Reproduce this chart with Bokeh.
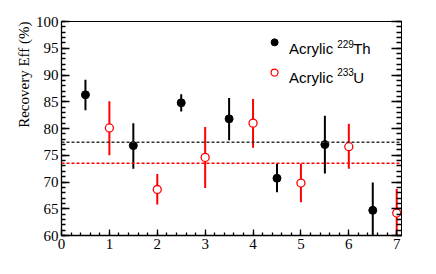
import math
from bokeh.plotting import figure
from bokeh.models import Range1d, FixedTicker, LinearAxis, Label, Span, ColumnDataSource, Title
from bokeh.embed import file_html
from bokeh.resources import INLINE

# ---- data ----
th_x = [0.5, 1.5, 2.5, 3.5, 4.5, 5.5, 6.5]
th_y = [86.3, 76.8, 84.8, 81.8, 70.7, 77.0, 64.7]
th_hi = [89.1, 81.0, 86.4, 85.7, 73.4, 82.4, 69.9]
th_lo = [83.4, 72.5, 83.2, 77.8, 68.1, 71.6, 59.0]

u_x = [1, 2, 3, 4, 5, 6, 7]
u_y = [80.1, 68.6, 74.6, 81.0, 69.8, 76.6, 64.2]
u_hi = [85.1, 71.5, 80.3, 85.5, 73.4, 80.9, 68.7]
u_lo = [75.0, 65.8, 68.9, 76.4, 66.2, 72.5, 59.0]

th_mean = 77.45
u_mean = 73.5

x_ticks = [0, 1, 2, 3, 4, 5, 6, 7]
y_ticks = [60, 65, 70, 75, 80, 85, 90, 95, 100]

SANS = "'Liberation Sans'"
SERIF = "'Liberation Serif'"

p = figure(width=428, height=266, output_backend="svg",
           toolbar_location=None, min_border_left=61, min_border_top=21,
           min_border_right=27, min_border_bottom=31,
           x_range=Range1d(0, 7.1), y_range=Range1d(60, 100))
p.xgrid.visible = False
p.ygrid.visible = False
p.outline_line_color = "black"
p.outline_line_width = 1
p.background_fill_color = "white"
p.border_fill_color = "white"

xminor = [i * 0.2 for i in range(0, 36)]
yminor = list(range(60, 101))

xa = p.xaxis[0]
ya = p.yaxis[0]
xa.ticker = FixedTicker(ticks=x_ticks, minor_ticks=xminor)
ya.ticker = FixedTicker(ticks=y_ticks, minor_ticks=yminor)

for ax in (xa, ya):
    ax.major_label_text_font = SERIF
    ax.major_label_text_font_size = "15px"
    ax.major_label_text_color = "black"
    ax.axis_line_color = "black"
    ax.axis_line_width = 1.3
    ax.major_tick_line_color = "black"
    ax.minor_tick_line_color = "black"
    ax.major_tick_out = 0
    ax.minor_tick_out = 0
    ax.major_tick_line_width = 1.3
    ax.minor_tick_line_width = 1.3
    ax.major_label_standoff = 3

xa.major_tick_in = 6
xa.minor_tick_in = 3
ya.major_tick_in = 8
ya.minor_tick_in = 4

ra = LinearAxis(ticker=FixedTicker(ticks=y_ticks, minor_ticks=yminor))
ra.major_label_text_font_size = "0px"
ra.major_label_text_alpha = 0
ra.major_tick_out = 0
ra.minor_tick_out = 0
ra.major_tick_in = 10
ra.minor_tick_in = 5
ra.axis_line_color = "black"
ra.major_tick_line_width = 1.3
ra.minor_tick_line_width = 1.3
ra.major_label_standoff = 0
p.add_layout(ra, "right")

# y axis title, aligned to the top end
p.add_layout(Title(text="Recovery Eff (%)", align="right", text_font=SERIF,
                   text_font_size="15px", text_font_style="normal",
                   text_color="black", standoff=2, offset=0), "left")

# mean lines
p.add_layout(Span(location=th_mean, dimension="width", line_color="#333333",
                  line_dash="3 2", line_width=1.5))
p.add_layout(Span(location=u_mean, dimension="width", line_color="#ff0000",
                  line_dash="3 2", line_width=1.5))

th_src = ColumnDataSource(dict(x=th_x, y=th_y, hi=th_hi, lo=th_lo))
u_src = ColumnDataSource(dict(x=u_x, y=u_y, hi=u_hi, lo=u_lo))

p.segment(x0="x", y0="lo", x1="x", y1="hi", source=th_src, line_color="black", line_width=2)
p.segment(x0="x", y0="lo", x1="x", y1="hi", source=u_src, line_color="#ff0000", line_width=2)
p.scatter(x="x", y="y", source=th_src, size=8, marker="circle",
          fill_color="black", line_color="black")
p.scatter(x="x", y="y", source=u_src, size=8, marker="circle",
          fill_color="white", line_color="#ff0000", line_width=1.3)

# legend (custom)
p.scatter(x=[4.45], y=[96.1], size=7, marker="circle", fill_color="black", line_color="black")
p.scatter(x=[4.45], y=[90.45], size=7, marker="circle", fill_color="white",
          line_color="#ff0000", line_width=1.2)

def lab(x, y, text, size):
    p.add_layout(Label(x=x, y=y, text=text, text_font=SANS, text_font_size=size,
                       text_color="black", text_baseline="alphabetic", text_align="left"))

lab(4.75, 94.9, "Acrylic", "15px")
lab(5.758, 95.85, "229", "10px")
lab(6.09, 94.9, "Th", "15px")
lab(4.75, 89.6, "Acrylic", "15px")
lab(5.758, 90.55, "233", "10px")
lab(6.09, 89.6, "U", "15px")

open("out.html", "w").write(file_html(p, INLINE))
